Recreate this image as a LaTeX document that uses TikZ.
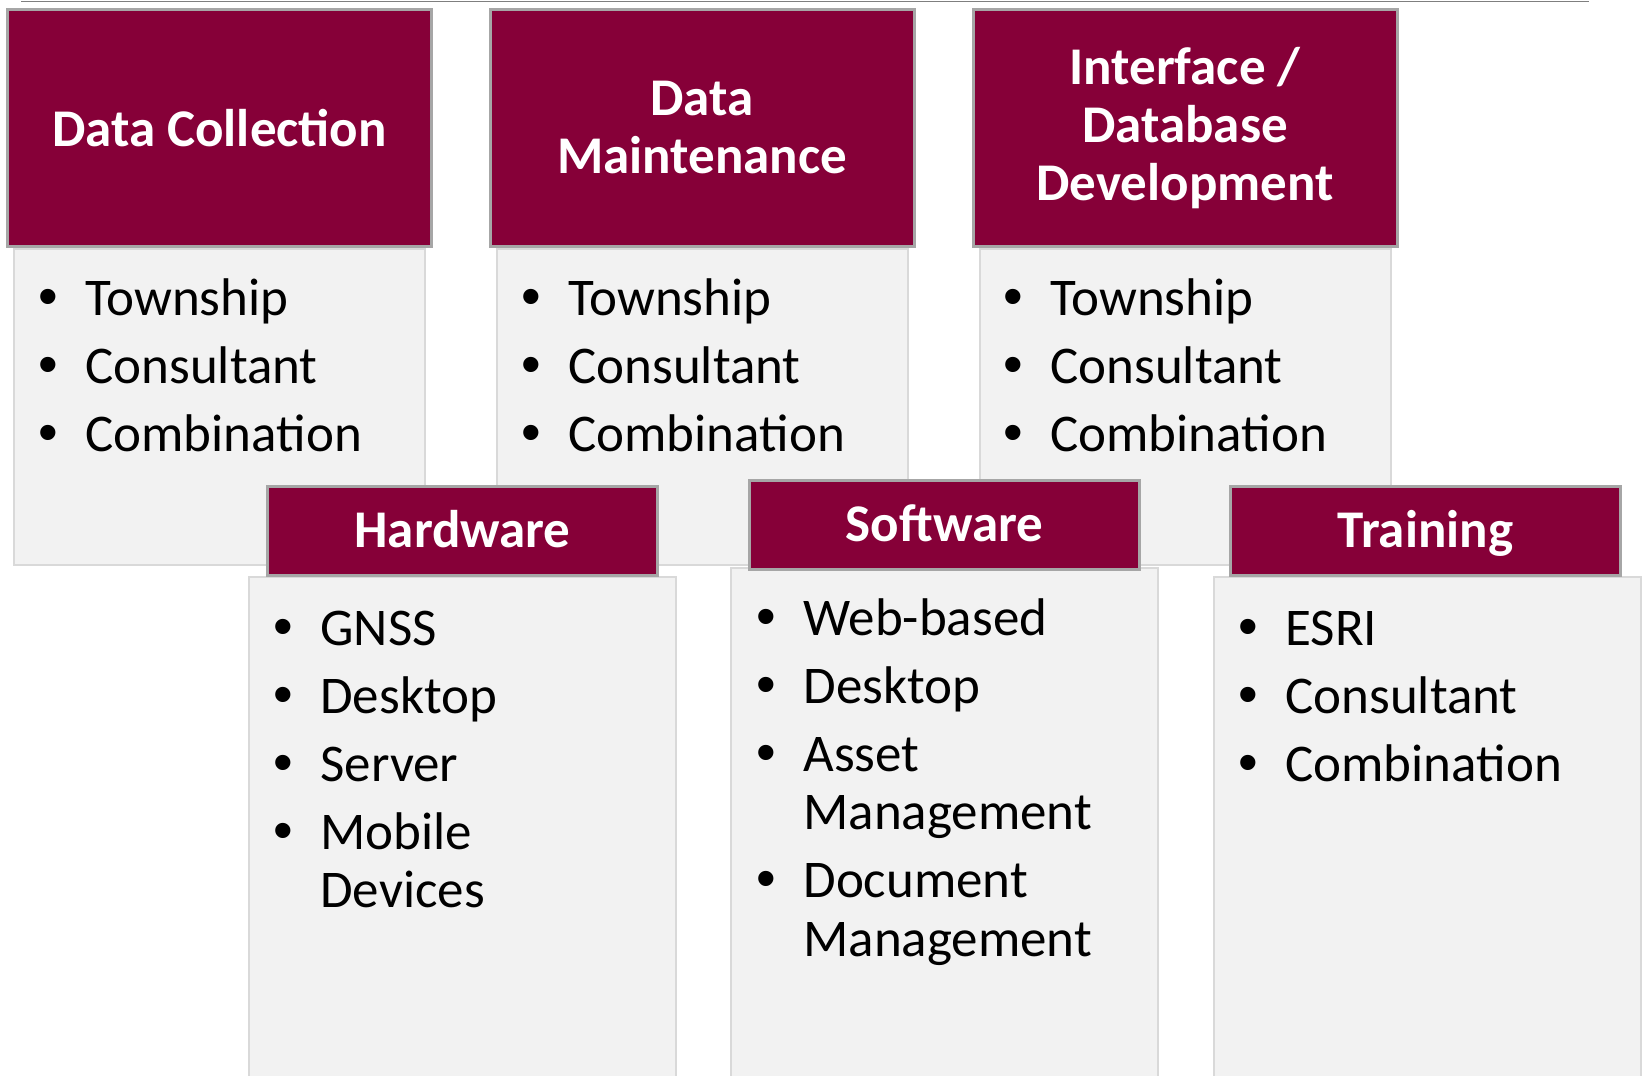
\documentclass[tikz,border=0pt]{standalone}
\usepackage{fontspec}
\setmainfont{Carlito}
\newfontfamily\bulfont{Liberation Sans}
\usetikzlibrary{positioning}

\definecolor{hdred}{RGB}{134,0,56}
\definecolor{hdline}{RGB}{166,166,166}
\definecolor{bdfill}{RGB}{242,242,242}
\definecolor{bdline}{RGB}{217,217,217}
\definecolor{rulegray}{RGB}{127,127,127}

\newcommand{\bul}{\makebox[23.5pt][l]{\bulfont\fontsize{28}{28}\selectfont\char"2022}}
\newcommand{\igap}{\\[4.7pt]}

\begin{document}
\begin{tikzpicture}[x=0.5pt, y=-0.5pt,
  head/.style={draw=hdline, line width=1.5pt, fill=hdred, text=white,
    font=\bfseries\fontsize{26.5}{29}\selectfont, align=center, inner sep=0pt,
    minimum width=212pt, minimum height=118.5pt},
  subhead/.style={head, minimum width=195pt, minimum height=44.5pt,
    text height=16.8pt, text depth=0pt},
  panel/.style={draw=bdline, line width=1pt, fill=bdfill, inner sep=0pt,
    minimum width=205.5pt, minimum height=158pt},
  subpanel/.style={panel, minimum width=213.5pt},
  lst/.style={inner sep=0pt, anchor=base west, font=\fontsize{26.5}{29.3}\selectfont}]
  \useasboundingbox (0,0) rectangle (1644,1076);
  \clip (0,0) rectangle (1644,1076);

  % rule at the top
  \coordinate (rulew) at (21,1.5);
  \coordinate (rulee) at (1589,1.5);
  \draw[rulegray, line width=0.6pt] (rulew) -- (rulee);

  % top row
  \node[panel] (dcbox) at (219.5,407) {};
  \node[panel] (dmbox) at (702,407) {};
  \node[panel] (idbox) at (1185,407) {};
  \node[head] (dchead) at (219.5,128) {Data Collection};
  \node[head] (dmhead) at (702,128) {Data\\Maintenance};
  \node[head] (idhead) at (1185,128) {Interface /\\Database\\Development};

  \node[lst] (dclist) at (38,315) {\begin{tabular}[t]{@{}l@{}l@{}}
    \bul & Township\igap \bul & Consultant\igap \bul & Combination
  \end{tabular}};
  \node[lst] (dmlist) at (521,315) {\begin{tabular}[t]{@{}l@{}l@{}}
    \bul & Township\igap \bul & Consultant\igap \bul & Combination
  \end{tabular}};
  \node[lst] (idlist) at (1003,315) {\begin{tabular}[t]{@{}l@{}l@{}}
    \bul & Township\igap \bul & Consultant\igap \bul & Combination
  \end{tabular}};

  % bottom row
  \node[subpanel, minimum height=256.5pt] (hwbox) at (462.5,833.5) {};
  \node[subpanel, minimum height=261pt] (swbox) at (944,829) {};
  \node[subpanel, minimum height=256.5pt] (trbox) at (1427.5,833.5) {};
  \node[subhead] (hwhead) at (462.5,531) {Hardware};
  \node[subhead] (swhead) at (944.5,525) {Software};
  \node[subhead] (trhead) at (1425.5,531) {Training};

  \node[lst] (hwlist) at (273,645) {\begin{tabular}[t]{@{}l@{}l@{}}
    \bul & GNSS\igap \bul & Desktop\igap \bul & Server\igap
    \bul & Mobile\\ & Devices
  \end{tabular}};
  \node[lst] (swlist) at (756,635) {\begin{tabular}[t]{@{}l@{}l@{}}
    \bul & Web-based\igap \bul & Desktop\igap
    \bul & Asset\\ & Management\igap
    \bul & Document\\ & Management
  \end{tabular}};
  \node[lst] (trlist) at (1238,645) {\begin{tabular}[t]{@{}l@{}l@{}}
    \bul & ESRI\igap \bul & Consultant\igap \bul & Combination
  \end{tabular}};
\end{tikzpicture}
\end{document}
